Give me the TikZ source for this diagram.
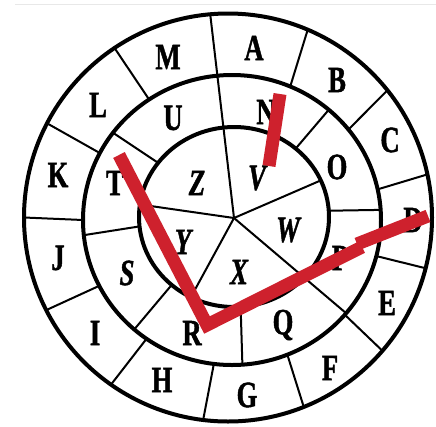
\documentclass[tikz,border=0pt]{standalone}
\usepackage{fontspec}
\newfontfamily\letterfont{Liberation Serif}[FakeStretch=0.72, BoldFeatures={FakeBold=1.2}, BoldItalicFeatures={FakeBold=1.2}]
\definecolor{redline}{RGB}{206,33,45}
\definecolor{faint}{RGB}{232,232,232}
\tikzset{
  ring/.style={line width=4pt, black},
  divider/.style={line width=2pt, black},
  letter/.style={font=\letterfont\fontsize{37}{37}\selectfont\bfseries, inner sep=0pt, anchor=center},
  iletter/.style={font=\letterfont\fontsize{37}{37}\selectfont\bfseries\itshape, inner sep=0pt, anchor=center},
  marker/.style={redline, line width=13pt}
}
\begin{document}
\begin{tikzpicture}[x=1pt,y=-1pt]
\fill[white] (0,0) rectangle (436,426);
\useasboundingbox (0,0) rectangle (436,426);
\clip (0,0) rectangle (436,426);
% faint top rule
\draw[faint, line width=1pt] (15,4) -- (436,4);
% rings
\draw[ring] (228,217.5) circle[radius=204];
\draw[ring] (232,220) ellipse[x radius=149, y radius=145];
\draw[ring] (234,217) ellipse[x radius=95, y radius=90];
% hub
\coordinate (hub) at (234,218);
% outer ring dividers
\foreach \a in {67,38.6,12.2,-14.4,-40.8,-68.2,-97,-125,-153,180,152.5,123.8}{
  \draw[divider] ({232+149*cos(\a)},{220-145*sin(\a)}) -- ({228+204*cos(\a)},{217.5-204*sin(\a)});
}
% long spoke through all rings (top)
\draw[divider] (hub) -- ({228+204*cos(95)},{217.5-204*sin(95)});
% middle ring dividers
\foreach \a in {49.5,4,-86,-131,-174,143}{
  \draw[divider] ({234+95*cos(\a)},{217-90*sin(\a)}) -- ({232+149*cos(\a)},{220-145*sin(\a)});
}
% spoke from hub through middle ring (W/X, P/Q)
\draw[divider] (hub) -- ({232+149*cos(-40)},{220-145*sin(-40)});
% inner spokes
\foreach \a in {24,-117,172}{
  \draw[divider] (hub) -- ({234+95*cos(\a)},{217-90*sin(\a)});
}
% outer letters
\node[letter] (lM) at (168,57) {M};
\node[letter] (lA) at (254,48) {A};
\node[letter] (lB) at (337,80) {B};
\node[letter] (lC) at (390,140) {C};
\node[letter] (lD) at (413,220) {D};
\node[letter] (lE) at (387,303) {E};
\node[letter] (lF) at (330,368) {F};
\node[letter] (lG) at (247,395) {G};
\node[letter] (lH) at (162,380) {H};
\node[letter] (lI) at (95,333) {I};
\node[letter] (lJ) at (58,258) {J};
\node[letter] (lK) at (58,175) {K};
\node[letter] (lL) at (98,105) {L};
% middle letters
\node[letter] (lU) at (173,118) {U};
\node[letter] (lN) at (266,112) {N};
\node[letter] (lO) at (337,167) {O};
\node[letter] (lP) at (340,258) {P};
\node[letter] (lQ) at (283,325) {Q};
\node[letter] (lR) at (192,333) {R};
\node[iletter] (lS) at (127,273) {S};
\node[letter] (lT) at (115,183) {T};
% inner letters
\node[iletter] (lZ) at (197,183) {Z};
\node[iletter] (lV) at (257,178) {V};
\node[iletter] (lW) at (288,230) {W};
\node[iletter] (lX) at (239,272) {X};
\node[iletter] (lY) at (183,242) {Y};
% red marks
\coordinate (m1a) at (280,94);
\coordinate (m1b) at (269,166);
\draw[marker] (m1a) -- (m1b);
\coordinate (m2a) at (119,155);
\coordinate (m2b) at (207,325);
\coordinate (m2c) at (362,247);
\draw[marker, line join=miter] (m2a) -- (m2b) -- (m2c);
\coordinate (m3a) at (357,244);
\coordinate (m3b) at (428,216);
\draw[marker] (m3a) -- (m3b);
\end{tikzpicture}
\end{document}
